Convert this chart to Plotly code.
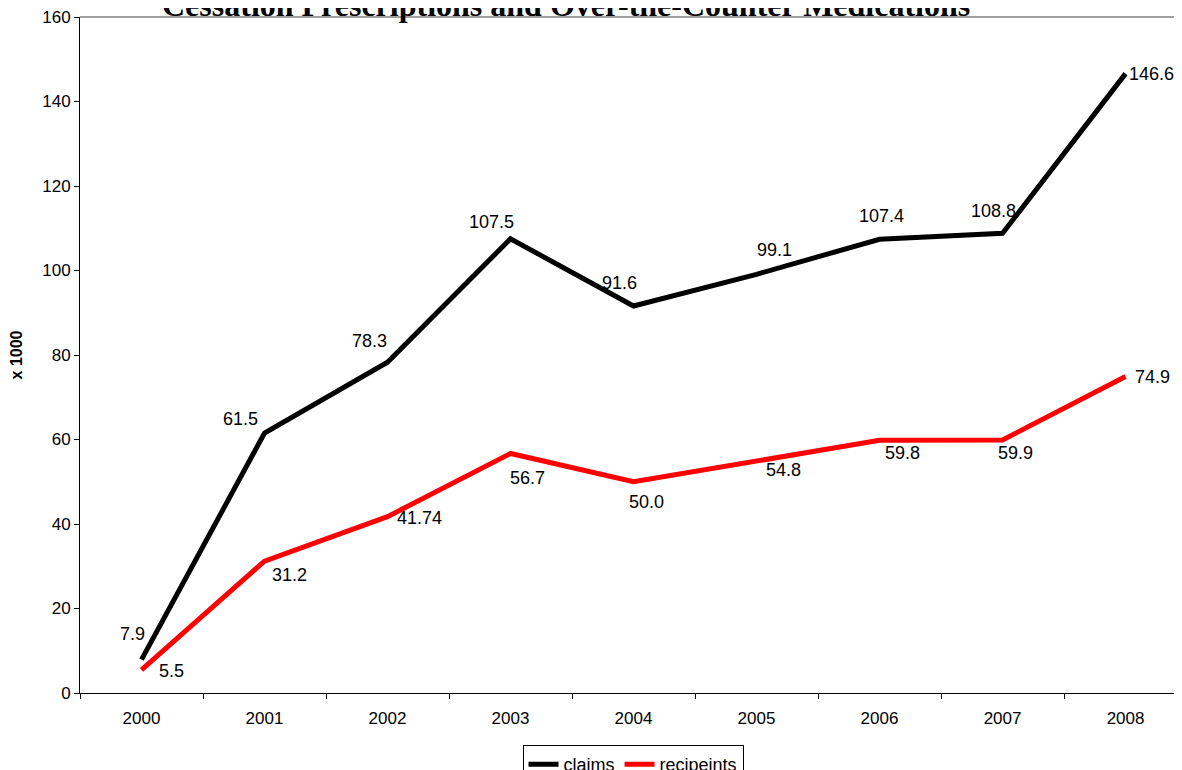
import plotly.graph_objects as go

years = ["2000", "2001", "2002", "2003", "2004", "2005", "2006", "2007", "2008"]
claims = [7.9, 61.5, 78.3, 107.5, 91.6, 99.1, 107.4, 108.8, 146.6]
recipients = [5.5, 31.2, 41.74, 56.7, 50.0, 54.8, 59.8, 59.9, 74.9]
claims_labels = ["7.9", "61.5", "78.3", "107.5", "91.6", "99.1", "107.4", "108.8", "146.6"]
recip_labels = ["5.5", "31.2", "41.74", "56.7", "50.0", "54.8", "59.8", "59.9", "74.9"]

# label offsets (style only), in pixels: (dx right, dy up)
claims_off = [(-9, 26), (-24, 14), (-18, 21), (-19, 17), (-14, 23), (18, 24), (2, 23), (-9, 22), (26, 0)]
recip_off = [(30, -1), (25, -14), (32, -1), (17, -25), (13, -20), (27, -9), (23, -13), (13, -13), (27, 0)]

FONT = "Liberation Sans, Arial, sans-serif"

fig = go.Figure()
fig.add_trace(go.Scatter(x=years, y=claims, mode="lines", name="claims",
                         line=dict(color="black", width=5)))
fig.add_trace(go.Scatter(x=years, y=recipients, mode="lines", name="recipeints",
                         line=dict(color="#ff0000", width=5)))

annotations = []
# category axis: annotation x given as category index
for i, (y, t, (dx, dy)) in enumerate(zip(claims, claims_labels, claims_off)):
    annotations.append(dict(x=i, y=y, xref="x", yref="y", text=t, showarrow=False,
                            xshift=dx, yshift=dy,
                            font=dict(family=FONT, size=18, color="black")))
for i, (y, t, (dx, dy)) in enumerate(zip(recipients, recip_labels, recip_off)):
    annotations.append(dict(x=i, y=y, xref="x", yref="y", text=t, showarrow=False,
                            xshift=dx, yshift=dy,
                            font=dict(family=FONT, size=18, color="black")))

annotations.append(dict(
    text="<b>Cessation Prescriptions and Over-the-Counter Medications</b>",
    xref="paper", yref="paper", x=0.441, y=1, xanchor="center", yanchor="bottom",
    yshift=-8, showarrow=False,
    font=dict(family="Liberation Serif, Times New Roman, serif", size=32, color="black")))

fig.update_layout(
    width=1174, height=762,
    paper_bgcolor="white", plot_bgcolor="white",
    margin=dict(l=72, r=0, t=9, b=77),
    showlegend=True,
    legend=dict(orientation="h", xref="container", yref="container",
                x=0.5324, y=1 - 737 / 762, xanchor="center", yanchor="top",
                bordercolor="black", borderwidth=1, bgcolor="white",
                font=dict(family=FONT, size=18, color="black"),
                itemwidth=30),
    annotations=annotations,
    shapes=[dict(type="line", xref="paper", yref="paper", x0=0, x1=1, y0=1, y1=1,
                 line=dict(color="#808080", width=1.5))],
)

fig.update_xaxes(
    type="category", range=[-0.5, 8.459],
    showline=True, linecolor="black", linewidth=1,
    ticks="outside", tickson="boundaries", ticklen=5, tickcolor="black",
    ticklabelstandoff=10,
    showgrid=False, zeroline=False,
    tickfont=dict(family=FONT, size=17, color="black"),
)
fig.update_yaxes(
    range=[0, 160], dtick=20,
    showline=True, linecolor="black", linewidth=1,
    ticks="outside", ticklen=5, tickcolor="black",
    ticklabeloverflow="allow",
    showgrid=False, zeroline=False,
    tickfont=dict(family=FONT, size=17, color="black"),
    title=dict(text="<b>x 1000</b>", font=dict(family=FONT, size=16, color="black"), standoff=22),
)

fig.write_html("out.html")
